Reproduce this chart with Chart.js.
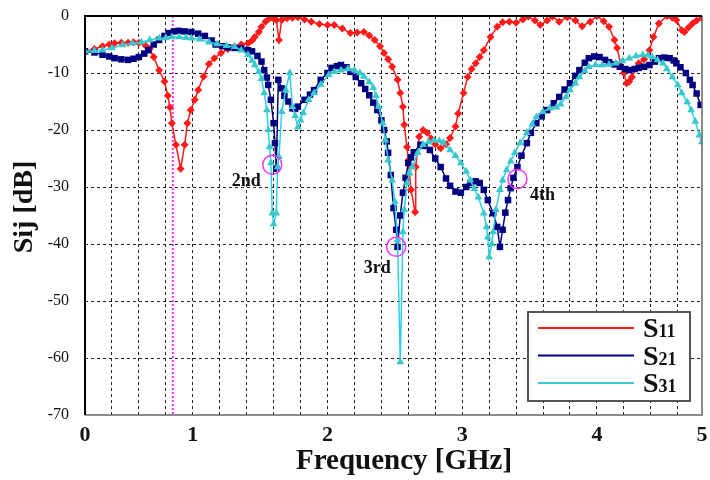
<!DOCTYPE html>
<html>
<head>
<meta charset="utf-8">
<script src="https://cdn.jsdelivr.net/npm/chart.js@4.4.1/dist/chart.umd.min.js"></script>
<style>
  html, body { margin: 0; padding: 0; background: #fff; }
  #wrap { width: 710px; height: 480px; }
</style>
</head>
<body>
<div id="wrap"><canvas id="grafico" width="710" height="480"></canvas></div>
<script>
// ── Dados ───────────────────────────────────────────────────────────────────
const freqS11 = [0.20, 0.27, 0.33, 0.38, 0.42, 0.47, 0.52, 0.56, 0.60, 0.65, 0.68, 0.71, 0.75, 0.79, 0.815, 0.83, 0.845, 0.875, 0.91, 0.94, 0.96, 0.985, 1.015, 1.04, 1.08, 1.12, 1.16, 1.21, 1.26, 1.31, 1.36, 1.41, 1.44, 1.46, 1.49, 1.51, 1.54, 1.57, 1.60, 1.62, 1.64, 1.66, 1.70, 1.74, 1.78, 1.83, 1.88, 1.94, 2.00, 2.05, 2.11, 2.17, 2.22, 2.27, 2.31, 2.35, 2.39, 2.42, 2.45, 2.48, 2.52, 2.54, 2.56, 2.57, 2.59, 2.60, 2.62, 2.65, 2.655, 2.68, 2.71, 2.74, 2.77, 2.80, 2.84, 2.88, 2.91, 2.95, 2.97, 3.01, 3.04, 3.07, 3.10, 3.13, 3.16, 3.21, 3.26, 3.30, 3.35, 3.40, 3.45, 3.49, 3.54, 3.58, 3.63, 3.67, 3.72, 3.78, 3.84, 3.89, 3.95, 4.00, 4.05, 4.09, 4.13, 4.15, 4.18, 4.20, 4.22, 4.24, 4.26, 4.31, 4.35, 4.39, 4.42, 4.46, 4.52, 4.56, 4.59, 4.63, 4.65, 4.68, 4.71, 4.74, 4.78];
const s11 = [-6.2, -5.8, -5.3, -5.0, -4.8, -4.7, -4.7, -4.6, -4.7, -5.2, -5.8, -7.2, -9.5, -11.5, -14, -16, -18.8, -22.6, -26.8, -22.6, -18.8, -16.5, -14.7, -13, -10.6, -8.4, -7.4, -6.5, -5.8, -5.4, -5.0, -4.8, -4.3, -3.7, -2.8, -1.9, -1.0, -0.4, -0.5, -0.7, -4.2, -0.7, -0.4, -0.3, -0.2, -0.6, -1.0, -1.4, -1.6, -1.6, -2.2, -3.0, -2.9, -2.8, -3.4, -4.2, -5.3, -6.5, -7.6, -8.9, -11.2, -13.5, -15.9, -19.1, -23.0, -25.3, -30.5, -34.4, -26.5, -21.2, -20.0, -20.5, -21.5, -22.5, -23.2, -22.5, -21.4, -19.4, -17.1, -13.5, -10.7, -9.3, -8.3, -7.2, -6.0, -3.7, -1.9, -1.1, -1.0, -1.2, -0.6, -0.1, -0.8, -1.6, -0.8, -0.1, -1.0, -0.2, -0.8, -1.8, -1.0, 0.0, -0.9, -1.9, -4.2, -5.6, -8.9, -10.0, -11.8, -11.5, -10.7, -8.3, -7.6, -6.0, -3.7, -1.3, 0.0, -0.3, -0.7, -2.5, -2.8, -2.0, -1.3, -0.8, -0.4];

const freqS21 = [0.20, 0.27, 0.33, 0.38, 0.42, 0.47, 0.52, 0.56, 0.60, 0.64, 0.67, 0.71, 0.75, 0.79, 0.82, 0.86, 0.895, 0.94, 0.99, 1.04, 1.09, 1.14, 1.17, 1.22, 1.26, 1.31, 1.36, 1.41, 1.44, 1.48, 1.51, 1.53, 1.55, 1.56, 1.58, 1.60, 1.61, 1.62, 1.635, 1.66, 1.68, 1.71, 1.74, 1.76, 1.78, 1.83, 1.87, 1.90, 1.95, 2.00, 2.03, 2.07, 2.10, 2.14, 2.17, 2.21, 2.25, 2.28, 2.31, 2.34, 2.37, 2.40, 2.42, 2.44, 2.45, 2.47, 2.49, 2.51, 2.52, 2.54, 2.56, 2.58, 2.60, 2.62, 2.64, 2.69, 2.72, 2.76, 2.80, 2.84, 2.88, 2.91, 2.95, 2.99, 3.03, 3.06, 3.10, 3.13, 3.16, 3.19, 3.23, 3.26, 3.28, 3.30, 3.32, 3.34, 3.36, 3.38, 3.41, 3.44, 3.48, 3.51, 3.55, 3.59, 3.63, 3.68, 3.72, 3.76, 3.80, 3.84, 3.87, 3.91, 3.94, 3.98, 4.02, 4.06, 4.09, 4.13, 4.17, 4.21, 4.24, 4.28, 4.31, 4.35, 4.39, 4.43, 4.46, 4.50, 4.54, 4.57, 4.59, 4.62, 4.66, 4.69, 4.71, 4.74, 4.77];
const s21 = [-6.2, -6.4, -6.8, -7.1, -7.4, -7.6, -7.7, -7.5, -7.2, -6.6, -6.0, -5.0, -4.2, -3.5, -3.0, -2.7, -2.6, -2.7, -2.8, -3.1, -3.5, -4.3, -5.0, -5.3, -5.5, -5.6, -5.7, -6.0, -6.2, -7.0, -8.0, -9.5, -10.8, -12.1, -14.7, -18.8, -22.3, -26.8, -11.2, -12.7, -14.0, -15.0, -16.2, -16.3, -15.9, -14.7, -13.8, -13.0, -11.2, -10.0, -9.1, -8.8, -8.6, -9.0, -9.8, -10.7, -11.8, -12.8, -13.9, -15.2, -16.5, -18.3, -20, -22, -24, -27.9, -33.7, -37.5, -40.5, -35, -31, -28.4, -25.8, -24.8, -23.9, -22.6, -22.8, -23.5, -25, -26.5, -28.5, -29.8, -30.8, -31, -30, -29.3, -29, -29.3, -30.5, -32.3, -34.6, -37, -40.5, -37.5, -34.5, -32.3, -30.2, -28.4, -26.5, -24.5, -22.3, -20.5, -18.8, -17.6, -16.5, -15.3, -14.2, -12.9, -11.8, -10.5, -9.5, -8.2, -7.4, -7.1, -7.2, -7.7, -8.1, -8.5, -8.9, -9.3, -9.5, -9.3, -9.1, -8.9, -8.6, -8.0, -7.4, -7.3, -7.4, -7.8, -8.3, -9.0, -10, -11.2, -12.1, -13.6, -15.6];

const freqS31 = [0.20, 0.27, 0.33, 0.40, 0.48, 0.55, 0.62, 0.68, 0.75, 0.80, 0.845, 0.90, 0.95, 0.99, 1.05, 1.12, 1.18, 1.25, 1.31, 1.36, 1.41, 1.44, 1.46, 1.49, 1.51, 1.53, 1.55, 1.56, 1.57, 1.58, 1.59, 1.60, 1.62, 1.63, 1.64, 1.66, 1.69, 1.72, 1.74, 1.76, 1.78, 1.80, 1.82, 1.86, 1.90, 1.95, 2.01, 2.05, 2.10, 2.15, 2.20, 2.24, 2.27, 2.31, 2.34, 2.36, 2.38, 2.41, 2.43, 2.45, 2.48, 2.50, 2.52, 2.54, 2.56, 2.57, 2.59, 2.61, 2.63, 2.67, 2.71, 2.75, 2.79, 2.83, 2.86, 2.91, 2.95, 2.99, 3.03, 3.06, 3.09, 3.12, 3.16, 3.18, 3.19, 3.20, 3.22, 3.23, 3.25, 3.28, 3.30, 3.33, 3.36, 3.39, 3.43, 3.48, 3.52, 3.55, 3.60, 3.65, 3.70, 3.73, 3.77, 3.80, 3.84, 3.87, 3.91, 3.94, 3.99, 4.04, 4.09, 4.14, 4.19, 4.24, 4.29, 4.34, 4.38, 4.41, 4.45, 4.49, 4.52, 4.56, 4.60, 4.63, 4.67, 4.70, 4.73, 4.76, 4.78];
const s31 = [-6.2, -6.1, -6.0, -5.6, -5.1, -4.8, -4.6, -4.2, -3.9, -3.8, -3.7, -3.7, -3.8, -3.9, -4.1, -4.6, -4.9, -5.2, -5.4, -6.0, -6.8, -7.8, -8.6, -9.8, -11, -13.5, -16.5, -20, -23, -25.8, -34.6, -36.5, -34.6, -26.5, -24.7, -16.8, -13, -10, -15.9, -17.5, -19.5, -18.3, -17, -14.7, -13.5, -12, -10.3, -9.8, -9.5, -9.3, -9.5, -10.0, -10.6, -11.6, -12.6, -14, -15.9, -18.8, -21.8, -25.3, -28.8, -32.6, -39.3, -60.7, -37.9, -34, -29.3, -27.6, -26.5, -24, -22.6, -22.1, -21.8, -21.9, -22.2, -23.5, -24.5, -25.8, -27.3, -28.8, -30.3, -31.8, -34.6, -37, -38.8, -42.3, -40, -37.9, -34, -30.5, -28.8, -27, -25.5, -24, -22.3, -20.5, -19, -17.7, -16.8, -16.2, -16.0, -15.5, -14.2, -13, -11.8, -10.7, -9.6, -8.9, -8.6, -8.6, -8.5, -8.3, -7.9, -7.4, -7.0, -6.8, -6.9, -7.2, -7.7, -8.3, -9.3, -10.7, -12.1, -13.5, -15.1, -16.5, -18.5, -20.9, -22.1];

// eixo x: rótulos como aparecem na figura (bordas marcadas 0 e 5)
const xMin = 0.2, xMax = 4.78;
const xTickValues = [0.2, 1, 2, 3, 4, 4.78];
const xTickLabels = ['0', '1', '2', '3', '4', '5'];
const yTickValues = [0, -10, -20, -30, -40, -50, -60, -70];

// ressonâncias marcadas
const marcaFreq = [1.59, 2.51, 3.41];
const marcaNivel = [-26.1, -40.5, -28.6];
const marcaTexto = ['2nd', '3rd', '4th'];
const linhaVertical = 0.852;

const nomesSerie = ['11', '21', '31'];

const CORES = {
  s11: '#ff1a1a',
  s21: '#000080',
  s31: '#36c8cc',
  s31Linha: '#2ecfe6',
  magenta: '#ff33ff'
};

const SERIF = '"Liberation Serif", "Times New Roman", serif';

function pontos(fx, fy) {
  return fx.map((x, i) => ({ x, y: fy[i] }));
}

// ── Plugin: moldura, marcações, legenda, títulos ─────────────────────────────
const extras = {
  id: 'extras',
  beforeDatasetsDraw(chart) {
    const { ctx, chartArea: a, scales: { x } } = chart;
    const px = x.getPixelForValue(linhaVertical);
    ctx.save();
    ctx.strokeStyle = CORES.magenta;
    ctx.lineWidth = 2;
    ctx.setLineDash([2, 2]);
    ctx.beginPath();
    ctx.moveTo(px, a.top);
    ctx.lineTo(px, a.bottom);
    ctx.stroke();
    ctx.restore();
  },
  afterDraw(chart) {
    const { ctx, chartArea: a, scales: { x, y } } = chart;
    ctx.save();

    // moldura
    ctx.lineWidth = 1.5;
    ctx.strokeStyle = '#666';
    ctx.beginPath();
    ctx.moveTo(a.right, a.top);
    ctx.lineTo(a.right, a.bottom);
    ctx.lineTo(a.left, a.bottom);
    ctx.stroke();
    ctx.lineWidth = 2;
    ctx.strokeStyle = '#000';
    ctx.beginPath();
    ctx.moveTo(a.left, a.bottom);
    ctx.lineTo(a.left, a.top);
    ctx.lineTo(a.right, a.top);
    ctx.stroke();

    // círculos + rótulos
    const offsets = [[-26, 17], [-19, 21], [25, 16]];
    marcaFreq.forEach((f, i) => {
      const cx = x.getPixelForValue(f);
      const cy = y.getPixelForValue(marcaNivel[i]);
      ctx.strokeStyle = CORES.magenta;
      ctx.lineWidth = 1.5;
      ctx.beginPath();
      ctx.arc(cx, cy, 9.5, 0, Math.PI * 2);
      ctx.stroke();
      ctx.fillStyle = '#111';
      ctx.font = 'bold 18px ' + SERIF;
      ctx.textAlign = 'center';
      ctx.textBaseline = 'middle';
      ctx.fillText(marcaTexto[i], cx + offsets[i][0], cy + offsets[i][1]);
    });

    // legenda
    const lx = 528, ly = 312, lw = 162, lh = 89;
    ctx.fillStyle = '#fff';
    ctx.fillRect(lx, ly, lw, lh);
    ctx.strokeStyle = '#444';
    ctx.lineWidth = 1.8;
    ctx.strokeRect(lx, ly, lw, lh);
    const cores = [CORES.s11, CORES.s21, CORES.s31];
    nomesSerie.forEach((n, i) => {
      const yy = 328 + i * 27.5;
      ctx.strokeStyle = cores[i];
      ctx.lineWidth = 2;
      ctx.beginPath();
      ctx.moveTo(538, yy);
      ctx.lineTo(634, yy);
      ctx.stroke();
      ctx.fillStyle = '#111';
      ctx.textAlign = 'left';
      ctx.textBaseline = 'alphabetic';
      ctx.font = 'bold 28px ' + SERIF;
      ctx.fillText('S', 643, yy + 9);
      const w = ctx.measureText('S').width;
      ctx.font = 'bold 18px ' + SERIF;
      ctx.fillText(n, 643 + w, yy + 9);
    });

    // títulos dos eixos
    ctx.fillStyle = '#111';
    ctx.font = 'bold 29px ' + SERIF;
    ctx.textAlign = 'center';
    ctx.textBaseline = 'middle';
    ctx.fillText('Frequency [GHz]', 404, 462);
    ctx.translate(25, 207);
    ctx.rotate(-Math.PI / 2);
    ctx.font = 'bold 28px ' + SERIF;
    ctx.fillText('Sij [dB]', 0, 0);
    ctx.restore();
  }
};

// ── Gráfico ─────────────────────────────────────────────────────────────────
function linhasGradeX() {
  const v = [];
  for (let i = 1; i <= 23; i++) v.push(+(0.2 * i).toFixed(2));
  v.push(xMax);
  return v;
}

const gradeTracejada = (ctx) => {
  const t = ctx.tick ? ctx.tick.value : null;
  if (t === xMin || t === xMax || t === 0 || t === -70) return 'rgba(0,0,0,0)';
  return '#222';
};

new Chart(document.getElementById('grafico'), {
  type: 'line',
  data: {
    datasets: [
      {
        label: 'S11',
        data: pontos(freqS11, s11),
        borderColor: CORES.s11,
        backgroundColor: CORES.s11,
        borderWidth: 1.5,
        pointStyle: 'rectRot',
        pointRadius: 4,
        pointBorderWidth: 0,
        tension: 0,
        order: 3
      },
      {
        label: 'S21',
        data: pontos(freqS21, s21),
        borderColor: CORES.s21,
        backgroundColor: CORES.s21,
        borderWidth: 1.5,
        pointStyle: 'rect',
        pointRadius: 4.6,
        pointBorderWidth: 0,
        tension: 0,
        order: 2
      },
      {
        label: 'S31',
        data: pontos(freqS31, s31),
        borderColor: CORES.s31Linha,
        backgroundColor: CORES.s31,
        borderWidth: 1.5,
        pointStyle: 'triangle',
        pointRadius: 4.5,
        pointBorderWidth: 0,
        tension: 0,
        order: 1
      }
    ]
  },
  options: {
    responsive: false,
    animation: false,
    layout: { padding: { left: 0, right: 8, top: 16, bottom: 0 } },
    plugins: {
      legend: { display: false },
      tooltip: { enabled: false }
    },
    scales: {
      x: {
        type: 'linear',
        min: xMin,
        max: xMax,
        afterBuildTicks: (s) => { s.ticks = linhasGradeX().map(v => ({ value: v })); },
        afterFit: (s) => { s.height = 65; s.paddingLeft = 0; s.paddingRight = 0; },
        ticks: {
          autoSkip: false,
          maxRotation: 0,
          padding: 7,
          color: '#111',
          font: { family: SERIF, size: 22, weight: 'bold' },
          callback: (v) => {
            const i = xTickValues.findIndex(t => Math.abs(t - v) < 1e-6);
            return i >= 0 ? xTickLabels[i] : '';
          }
        },
        grid: { color: gradeTracejada, lineWidth: 1, drawTicks: false },
        border: { display: false, dash: [3, 3] }
      },
      y: {
        min: -70,
        max: 0,
        afterBuildTicks: (s) => { s.ticks = yTickValues.map(v => ({ value: v })); },
        afterFit: (s) => { s.width = 85; s.paddingTop = 0; s.paddingBottom = 0; },
        ticks: {
          padding: 16,
          color: '#111',
          font: { family: SERIF, size: 16 }
        },
        grid: { color: gradeTracejada, lineWidth: 1, drawTicks: false },
        border: { display: false, dash: [3, 3] }
      }
    }
  },
  plugins: [extras]
});
</script>
</body>
</html>
